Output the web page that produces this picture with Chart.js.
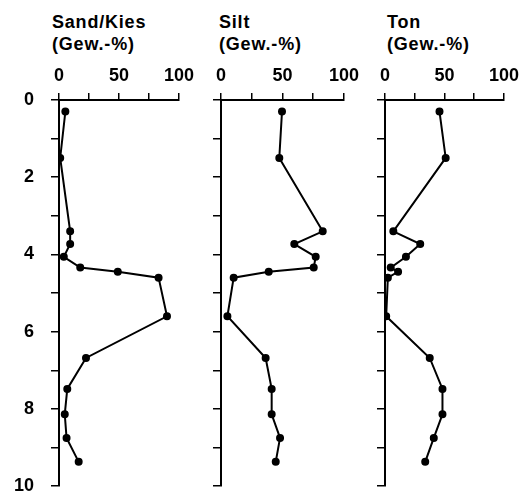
<!DOCTYPE html>
<html>
<head>
<meta charset="utf-8">
<script src="https://cdn.jsdelivr.net/npm/chart.js@4.4.0/dist/chart.umd.min.js"></script>
<style>
  body { margin: 0; background: #fff; width: 525px; height: 497px; overflow: hidden; position: relative; }
  canvas { position: absolute; top: 0; }
  .ttl { position: absolute; top: 11px; font: bold 18px "Liberation Sans", Arial, sans-serif; line-height: 22px; letter-spacing: 0.8px; color: #000; white-space: nowrap; }
  .pane { position: absolute; top: 0; height: 497px; overflow: hidden; }
</style>
</head>
<body>
<div class="ttl" style="left:52px">Sand/Kies<br>(Gew.-%)</div>
<div class="ttl" style="left:219px">Silt<br>(Gew.-%)</div>
<div class="ttl" style="left:387px">Ton<br>(Gew.-%)</div>
<div class="pane" style="left:0;width:200px"><canvas id="c1" width="200" height="514" style="left:0"></canvas></div>
<div class="pane" style="left:200px;width:165px"><canvas id="c2" width="165" height="514" style="left:0"></canvas></div>
<div class="pane" style="left:365px;width:160px"><canvas id="c3" width="160" height="514" style="left:0"></canvas></div>
<script>
// depth (m) of the samples, shared by the three profiles
const depth = [0.3, 1.5, 3.4, 3.73, 4.06, 4.34, 4.45, 4.6, 5.6, 6.68, 7.48, 8.14, 8.75, 9.37];
const sandKies = [5.3, 1, 9.3, 9.3, 4, 17.7, 49, 83, 90, 22.5, 6.9, 4.8, 6.3, 16.4];
const silt = [49.6, 47.4, 82.7, 59.6, 77, 75.4, 38.8, 10.3, 5.2, 36.3, 41.2, 41.2, 48, 44.5];
const ton = [45.8, 51, 7, 29.6, 17.6, 4.8, 11, 2.4, 1, 37.6, 48.3, 48.3, 41, 33.8];

const font = { family: '"Liberation Sans", Arial, sans-serif', size: 18, weight: 'bold' };

function profile(id, values, yWidth, padRight, showDepthLabels) {
    const pts = values.map((v, i) => ({ x: v, y: depth[i] }));
    return new Chart(document.getElementById(id), {
        type: 'scatter',
        data: {
            datasets: [{
                data: pts,
                showLine: true,
                borderColor: '#000',
                backgroundColor: '#000',
                borderWidth: 2,
                pointRadius: 3,
                pointHoverRadius: 3
            }]
        },
        options: {
            responsive: false,
            animation: false,
            layout: { padding: { top: 0, left: 0, right: padRight, bottom: 13 } },
            plugins: { legend: { display: false }, tooltip: { enabled: false } },
            scales: {
                x: {
                    position: 'top',
                    min: 0,
                    max: 100,
                    grid: { drawOnChartArea: false, drawTicks: true, tickLength: 7, color: '#000', lineWidth: 1.5 },
                    border: { display: true, color: '#000', width: 2 },
                    ticks: {
                        stepSize: 25,
                        maxRotation: 0,
                        autoSkip: false,
                        padding: 6,
                        color: '#000',
                        font: font,
                        callback: v => (v % 50 === 0 ? v : '')
                    },
                    afterFit: s => { s.height = 100; }
                },
                y: {
                    reverse: true,
                    min: 0,
                    max: 10,
                    grid: { drawOnChartArea: false, drawTicks: true, tickLength: 8, color: '#000', lineWidth: 1.5 },
                    border: { display: true, color: '#000', width: 2 },
                    ticks: {
                        stepSize: 1,
                        autoSkip: false,
                        padding: 17,
                        color: '#000',
                        font: font,
                        callback: v => (showDepthLabels && v % 2 === 0 ? v : '')
                    },
                    afterFit: s => { s.width = yWidth; }
                }
            }
        }
    });
}

profile('c1', sandKies, 59, 15, true);
profile('c2', silt, 21, 21, false);
profile('c3', ton, 20, 15, false);
</script>
</body>
</html>
